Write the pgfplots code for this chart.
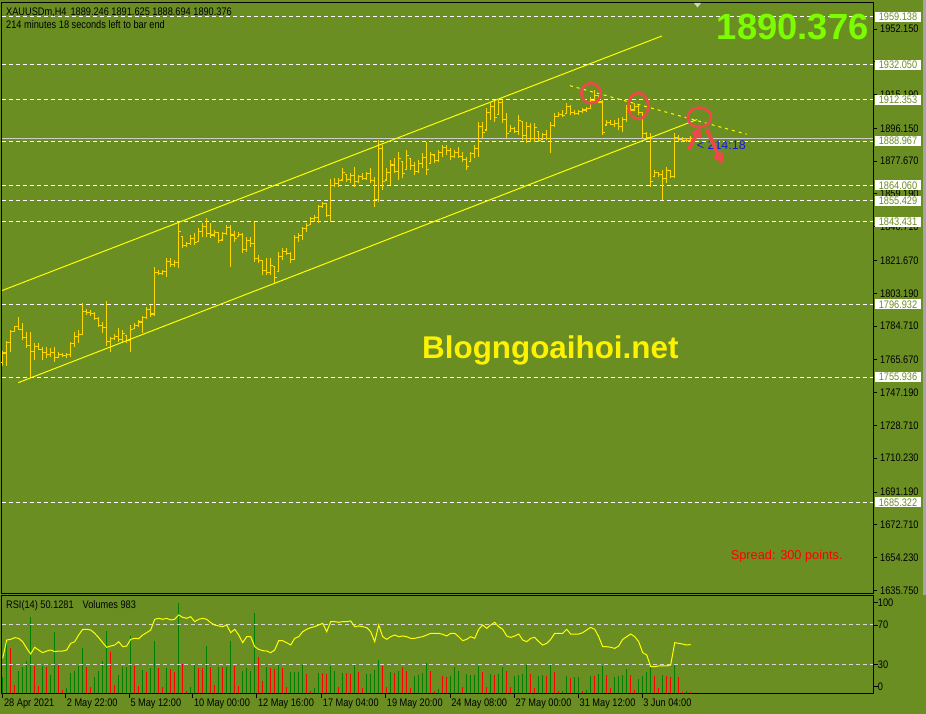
\documentclass[border=0pt]{standalone}
\usepackage{pgfplots}
\pgfplotsset{compat=1.18}
\usepackage{pgfplotstable}
\usepackage{fontspec}
\usetikzlibrary{arrows.meta}
\setmainfont{Liberation Sans}
\newfontfamily\mtfont[FakeStretch=0.84]{Liberation Sans}
\newcommand\mts{\mtfont\fontsize{11}{13}\selectfont}
\definecolor{bg}{RGB}{107,142,35}
\definecolor{bargold}{RGB}{255,215,0}
\definecolor{chan}{RGB}{255,255,0}
\definecolor{volgreen}{RGB}{0,128,0}
\definecolor{volred}{RGB}{255,0,0}
\definecolor{bignum}{RGB}{124,252,0}
\definecolor{circ}{RGB}{238,72,72}
\definecolor{timerblue}{RGB}{20,20,235}
\definecolor{bidgray}{RGB}{205,205,205}
\definecolor{lvl}{RGB}{215,215,215}
\definecolor{edgegray}{RGB}{165,165,165}
\pgfdeclareplotmark{openmk}{\pgfpathmoveto{\pgfqpoint{-1.9bp}{0bp}}\pgfpathlineto{\pgfqpoint{0bp}{0bp}}\pgfusepathqstroke}
\pgfdeclareplotmark{closemk}{\pgfpathmoveto{\pgfqpoint{0bp}{0bp}}\pgfpathlineto{\pgfqpoint{1.9bp}{0bp}}\pgfusepathqstroke}

\pgfplotstableread{
i O H L C
0 1764.0 1770.6 1762.4 1769.5
1 1769.5 1776.3 1762.4 1775.5
2 1775.5 1782.5 1770.2 1781.5
3 1781.5 1784.7 1781.5 1784.5
4 1784.5 1790.0 1782.5 1783.0
5 1783.0 1786.3 1776.8 1778.0
6 1778.0 1781.5 1772.2 1773.5
7 1773.5 1781.5 1755.2 1770.3
8 1770.3 1775.0 1765.6 1773.1
9 1773.1 1775.0 1771.2 1771.5
10 1771.5 1773.1 1765.6 1769.8
11 1769.8 1773.1 1766.5 1768.5
12 1768.5 1772.2 1767.4 1770.0
13 1770.0 1773.1 1764.6 1767.0
14 1767.0 1770.3 1766.5 1768.5
15 1768.5 1769.7 1767.4 1768.0
16 1768.0 1769.3 1766.5 1768.5
17 1768.5 1775.9 1767.4 1775.0
18 1775.0 1781.5 1773.1 1779.0
19 1779.0 1782.5 1775.0 1780.0
20 1780.0 1797.5 1779.7 1793.0
21 1793.0 1794.2 1790.9 1792.5
22 1792.5 1793.8 1790.4 1792.0
23 1792.0 1792.8 1788.1 1789.0
24 1789.0 1790.0 1784.0 1785.0
25 1785.0 1787.1 1780.6 1784.0
26 1784.0 1799.0 1773.5 1776.0
27 1776.0 1778.7 1770.3 1777.5
28 1777.5 1780.2 1776.8 1779.0
29 1779.0 1783.4 1775.9 1777.0
30 1777.0 1782.5 1775.0 1780.5
31 1779.5 1779.7 1775.0 1776.5
32 1776.5 1785.3 1770.3 1783.0
33 1783.4 1786.3 1783.4 1785.0
34 1785.0 1788.1 1784.3 1787.0
35 1787.0 1790.4 1781.0 1789.5
36 1789.5 1795.6 1788.5 1794.0
37 1794.0 1796.6 1790.0 1791.5
38 1791.5 1817.8 1790.4 1815.0
39 1815.0 1816.3 1813.5 1814.5
40 1814.5 1816.3 1813.5 1815.5
41 1815.5 1822.9 1812.5 1821.0
42 1821.0 1822.9 1818.2 1819.5
43 1819.5 1821.9 1818.2 1820.5
44 1820.5 1843.5 1817.3 1838.0
45 1835.1 1835.1 1828.5 1830.0
46 1830.0 1832.3 1829.4 1831.0
47 1831.0 1836.0 1830.4 1834.0
48 1834.0 1837.0 1830.4 1832.0
49 1832.3 1839.8 1832.3 1838.0
50 1838.0 1843.0 1835.1 1841.0
51 1841.0 1845.4 1835.1 1837.0
52 1837.0 1842.6 1834.2 1836.0
53 1836.0 1838.9 1835.1 1837.5
54 1837.5 1837.9 1831.4 1833.0
55 1833.2 1837.9 1833.2 1837.0
56 1837.0 1841.7 1836.0 1840.0
57 1840.0 1841.7 1817.8 1836.0
58 1836.0 1838.4 1832.3 1834.0
59 1835.1 1837.9 1835.1 1836.5
60 1836.5 1837.0 1825.7 1828.0
61 1828.0 1835.1 1826.6 1833.0
62 1833.0 1835.1 1829.4 1831.0
63 1831.0 1843.2 1821.0 1823.0
64 1823.0 1824.8 1820.1 1821.5
65 1821.5 1821.9 1813.5 1816.0
66 1816.0 1822.9 1813.5 1815.0
67 1815.0 1822.9 1813.5 1819.0
68 1818.2 1818.2 1808.8 1812.0
69 1815.3 1826.6 1815.3 1824.0
70 1824.0 1828.5 1821.9 1826.5
71 1826.5 1828.5 1824.8 1825.5
72 1825.5 1826.6 1820.1 1822.0
73 1822.0 1836.0 1821.9 1834.5
74 1834.5 1837.0 1832.3 1835.5
75 1835.5 1840.7 1833.2 1839.5
76 1839.5 1842.6 1837.9 1841.5
77 1841.7 1846.3 1841.7 1845.5
78 1845.5 1847.3 1843.5 1846.0
79 1846.0 1852.9 1843.0 1852.0
80 1852.0 1854.8 1851.1 1854.0
81 1853.9 1853.9 1846.3 1847.0
82 1847.0 1867.4 1843.4 1864.0
83 1864.0 1868.0 1863.3 1865.0
84 1865.0 1868.0 1863.3 1866.5
85 1867.0 1873.6 1867.0 1871.0
86 1869.9 1869.9 1866.1 1867.5
87 1867.5 1870.8 1865.2 1869.5
88 1869.5 1874.5 1862.9 1866.0
89 1866.0 1869.9 1865.2 1869.0
90 1869.0 1870.8 1867.0 1868.0
91 1868.0 1871.7 1867.0 1870.5
92 1870.5 1873.6 1865.2 1866.5
93 1866.5 1868.9 1852.0 1856.0
94 1856.0 1889.6 1854.8 1885.0
95 1885.0 1886.8 1861.4 1866.0
96 1867.0 1873.6 1867.0 1871.5
97 1871.5 1878.3 1864.2 1875.5
98 1875.5 1879.3 1870.8 1872.0
99 1872.0 1883.0 1867.0 1879.0
100 1877.4 1877.4 1868.0 1870.5
101 1872.7 1883.9 1872.7 1881.0
102 1879.3 1879.3 1872.7 1875.0
103 1875.0 1877.4 1869.9 1872.0
104 1872.0 1878.3 1870.8 1876.5
105 1876.5 1882.1 1873.6 1879.5
106 1879.5 1888.6 1869.9 1873.0
107 1876.5 1883.0 1876.5 1881.5
108 1881.1 1881.1 1876.5 1878.0
109 1878.0 1883.9 1877.4 1882.5
110 1882.5 1886.8 1880.2 1885.5
111 1885.5 1886.8 1881.1 1883.5
112 1883.5 1884.9 1878.3 1880.5
113 1880.5 1883.9 1879.3 1882.5
114 1882.5 1885.8 1879.3 1880.5
115 1880.5 1883.0 1877.4 1878.5
116 1878.5 1880.2 1872.7 1874.5
117 1877.4 1883.0 1877.4 1882.0
118 1882.0 1886.8 1879.3 1885.0
119 1885.0 1899.9 1880.2 1897.0
120 1897.0 1899.9 1890.5 1894.0
121 1895.2 1907.5 1895.2 1905.0
122 1905.0 1910.3 1900.9 1908.5
123 1908.5 1911.7 1899.9 1902.0
124 1903.7 1912.1 1903.7 1910.5
125 1910.5 1912.1 1899.0 1901.0
126 1901.0 1904.6 1890.5 1893.0
127 1894.3 1898.0 1894.3 1896.0
128 1896.0 1897.1 1893.4 1894.5
129 1894.5 1903.7 1892.4 1900.5
130 1899.9 1899.9 1889.6 1892.0
131 1892.0 1899.9 1887.7 1897.0
132 1897.0 1899.0 1888.6 1890.5
133 1890.5 1899.0 1888.6 1896.5
134 1894.3 1894.3 1888.6 1889.5
135 1889.6 1893.4 1889.6 1892.5
136 1892.5 1895.2 1889.6 1890.5
137 1890.5 1899.9 1882.1 1897.5
138 1897.5 1904.6 1897.1 1903.0
139 1903.0 1905.5 1902.7 1904.0
140 1904.0 1906.5 1902.7 1903.5
141 1904.6 1910.3 1904.6 1908.5
142 1908.5 1909.3 1903.7 1905.0
143 1905.0 1906.5 1903.7 1904.5
144 1904.5 1906.5 1903.7 1905.5
145 1905.5 1907.5 1904.6 1906.5
146 1906.5 1908.3 1905.5 1907.5
147 1907.5 1914.0 1907.5 1912.0
148 1912.0 1917.8 1911.2 1914.5
149 1914.5 1914.9 1910.3 1911.0
150 1911.0 1912.1 1892.4 1894.0
151 1898.0 1900.9 1898.0 1899.5
152 1899.5 1900.9 1898.0 1898.5
153 1898.5 1900.9 1897.1 1899.0
154 1899.0 1901.8 1895.2 1897.0
155 1897.0 1902.7 1894.3 1901.0
156 1901.0 1909.3 1899.9 1907.5
157 1907.5 1909.3 1904.6 1906.5
158 1906.5 1910.3 1906.5 1908.5
159 1908.5 1909.3 1903.7 1905.0
160 1905.0 1905.5 1890.5 1893.0
161 1893.0 1894.3 1889.6 1891.0
162 1891.0 1893.4 1863.3 1866.0
163 1868.9 1872.7 1868.9 1871.0
164 1871.0 1871.7 1868.9 1870.0
165 1870.0 1872.7 1855.8 1868.0
166 1868.0 1874.5 1865.2 1872.5
167 1872.5 1872.7 1868.0 1869.0
168 1869.0 1893.4 1868.0 1891.0
169 1891.0 1892.4 1888.6 1890.0
170 1890.0 1891.4 1888.6 1889.5
171 1889.5 1890.5 1888.6 1889.2
172 1889.246 1891.625 1888.694 1890.376
}\ohlc

\begin{document}
\begin{tikzpicture}
\path[use as bounding box] (0,0) rectangle (926bp,714bp);
\fill[bg] (0,0) rectangle (926bp,714bp);
\fill[edgegray] (923bp,119bp) rectangle (925.5bp,714bp);

% ---------------- main price panel ----------------
\begin{axis}[
  at={(1.7bp,120.7bp)}, anchor=south west, scale only axis,
  width=871.6bp, height=590.6bp,
  xmin=-0.25, xmax=217.65, ymin=1634.05, ymax=1966.97,
  axis line style={black, line width=1bp},
  xtick=\empty,
  ytick={1635.75,1654.23,1672.71,1691.19,1710.23,1728.71,1747.19,1765.67,1784.71,1803.19,1821.67,1840.71,1859.19,1877.67,1896.15,1915.19,1933.67,1952.15},
  yticklabels={}, ytick pos=right,
  tick align=outside, major tick length=4bp,
  tick style={black, line width=0.8bp},
  clip mode=individual,
]
\pgfplotsinvokeforeach{1959.138,1932.050,1912.353,1888.967,1864.060,1855.429,1843.431,1796.932,1755.936,1685.322}{
  \addplot[white, line width=1bp, dash pattern=on 4.5bp off 2.5bp, forget plot] coordinates {(-0.25,#1) (217.65,#1)};
}
\addplot[bidgray, line width=1bp, forget plot] coordinates {(-0.25,1890.376) (217.65,1890.376)};

% OHLC bars
\addplot[draw=none, mark=none, forget plot,
  error bars/.cd, y dir=plus, y explicit, error mark=none,
  error bar style={draw=bargold, solid, line width=1.3bp}]
  table[x=i, y=L, y error expr=\thisrow{H}-\thisrow{L}] {\ohlc};
\addplot[only marks, mark=openmk, mark options={draw=bargold, solid, line width=1.1bp}, forget plot] table[x=i, y=O] {\ohlc};
\addplot[only marks, mark=closemk, mark options={draw=bargold, solid, line width=1.1bp}, forget plot] table[x=i, y=C] {\ohlc};

% channel and trend lines
\addplot[chan, line width=1bp, forget plot] coordinates {(-0.175,1804.7) (164.8,1948.2)};
\addplot[chan, line width=1bp, forget plot] coordinates {(3.9,1752.8) (173.6,1901.1)};
\addplot[chan, line width=1bp, dash pattern=on 3bp off 4bp, forget plot] coordinates {(141.8,1920.2) (186.0,1892.8)};

% price scale labels
\pgfplotsinvokeforeach{1635.750,1654.230,1672.710,1691.190,1710.230,1728.710,1747.190,1765.670,1784.710,1803.190,1821.670,1840.710,1859.190,1877.670,1896.150,1915.190,1952.150}{
  \node[anchor=west, inner sep=0pt, font=\mts, text=black, xshift=6.7bp] at (axis cs:217.65,#1) {#1};
}
\pgfplotsinvokeforeach{1959.138,1932.050,1912.353,1888.967,1864.060,1855.429,1843.431,1796.932,1755.936,1685.322}{
  \node[anchor=west, fill=white, text=bg, inner xsep=3.9bp, inner ysep=1bp, minimum height=10bp, font=\mts, xshift=1.4bp] at (axis cs:217.65,#1) {#1};
}
\end{axis}

% ---------------- volumes ----------------
\begin{axis}[
  at={(1.7bp,20.7bp)}, anchor=south west, scale only axis,
  width=871.6bp, height=97.6bp,
  xmin=-0.25, xmax=217.65, ymin=0, ymax=97600,
  axis line style={black, line width=1bp},
  xtick=\empty, ytick=\empty,
]
\addplot[ycomb, volgreen, line width=1.2bp] coordinates {
(0,16000) (1,52700) (4,22700) (5,26000) (6,32000) (7,76000) (10,27700) (12,18700) (13,61000)
(16,5000) (17,20000) (18,22700) (19,27700) (20,45000) (23,16700) (24,22000) (25,32700) (26,62000)
(29,18700) (30,26000) (31,26000) (32,57700) (35,23700) (37,25000) (38,52700) (41,25300) (44,90300)
(47,6700) (48,28700) (51,47700) (54,26700) (56,26700) (57,52700) (60,22700) (61,25000) (62,22700)
(63,80000) (66,26700) (69,29300) (72,21000) (73,21000) (74,21000) (75,28700) (78,5000) (79,20000)
(82,27700) (83,22700) (85,20000) (88,28700) (91,19300) (92,19300) (93,23700) (94,33700) (97,21000)
(99,22700) (103,17700) (104,18700) (105,20000) (106,30000) (109,4000) (112,17700) (113,26000) (114,22700)
(116,19300) (117,18700) (118,18700) (119,27700) (122,19300) (124,19300) (125,26700) (128,17700)
(129,18700) (130,19300) (131,28700) (134,17700) (135,18700) (137,28700) (140,2700) (141,17700)
(143,16000) (144,16000) (146,3300) (147,17700) (149,19300) (150,27700) (153,16700) (154,17700)
(155,18700) (156,24300) (159,14300) (160,17700) (161,21000) (162,27700) (165,18700) (168,28700) (171,2700)
};
\addplot[ycomb, volred, line width=1.2bp] coordinates {
(2,45000) (3,8700) (8,27000) (9,7700) (11,26500) (14,29300) (15,3300) (21,26000) (22,6700)
(27,41700) (28,8700) (33,27700) (34,7700) (36,21000) (39,25300) (40,6700) (42,24300) (43,21000)
(45,29300) (46,2000) (49,25300) (50,25000) (52,26700) (53,8700) (55,26000) (58,27700) (59,7700)
(64,36700) (65,12000) (67,25300) (68,24300) (70,25300) (71,6700) (76,19300) (77,2000) (80,20000)
(81,19300) (84,6000) (86,20000) (87,19300) (89,21000) (90,5000) (95,27700) (96,6700) (98,20000)
(100,26000) (101,22700) (102,5300) (107,22000) (108,2000) (110,17700) (111,16000)
(115,6000) (120,21000) (121,6700) (123,18700) (126,22700) (127,6000) (132,19300) (133,5300)
(136,17700) (138,21000) (139,2700) (142,15300) (145,2700) (148,17700) (151,18700) (152,5000)
(157,18700) (158,3700) (163,17700) (164,5000) (166,17700) (167,16000) (169,16700) (170,1000) (172,983)
};
\end{axis}

% ---------------- RSI ----------------
\begin{axis}[
  at={(1.7bp,20.7bp)}, anchor=south west, scale only axis,
  width=871.6bp, height=97.6bp,
  xmin=-0.25, xmax=217.65, ymin=0.48, ymax=99.8,
  axis line style={black, line width=1bp},
  xtick={0,15.7,31.6,47.5,63.5,79.7,95.7,111.8,127.9,143.9,159.8}, xticklabels={}, xtick pos=left,
  ytick={7.2,30,70,92.7}, yticklabels={}, ytick pos=right,
  tick align=outside, major tick length=4.6bp,
  tick style={black, line width=0.8bp},
  clip mode=individual,
]
\addplot[lvl, line width=1bp, dash pattern=on 4bp off 3bp, forget plot] coordinates {(-0.25,70) (217.65,70)};
\addplot[lvl, line width=1bp, dash pattern=on 4bp off 3bp, forget plot] coordinates {(-0.25,30) (217.65,30)};
\addplot[chan, line width=1bp] coordinates {
(0,36.0) (1,54.7) (2,55.4) (3,57.1) (4,56.4) (5,53.0) (6,46.2) (7,40.5) (8,47.3) (9,44.5)
(10,41.8) (11,43.5) (12,44.5) (13,42.9) (14,43.5) (15,43.5) (16,44.5) (17,51.3) (18,53.0) (19,59.8)
(20,65.6) (21,65.6) (22,64.9) (23,61.5) (24,57.1) (25,52.0) (26,47.3) (27,48.6) (28,49.6) (29,53.0)
(30,47.9) (31,48.6) (32,55.4) (33,56.4) (34,56.1) (35,59.8) (36,62.2) (37,64.9) (38,75.8) (39,76.8)
(40,75.8) (41,76.8) (42,75.1) (43,75.8) (44,80.2) (45,77.8) (46,76.8) (47,78.5) (48,73.4) (49,75.8)
(50,76.8) (51,75.8) (52,72.4) (53,70.0) (54,69.0) (55,68.3) (56,70.0) (57,62.2) (58,65.6) (59,59.8)
(60,52.0) (61,58.1) (62,58.1) (63,47.9) (64,45.2) (65,43.9) (66,43.5) (67,41.8) (68,44.5) (69,54.0)
(70,54.0) (71,52.0) (72,49.6) (73,56.4) (74,58.1) (75,63.2) (76,65.6) (77,67.3) (78,68.3) (79,70.0)
(80,71.7) (81,63.2) (82,73.4) (83,73.4) (84,72.7) (85,73.4) (86,73.4) (87,74.1) (88,68.3) (89,69.0)
(90,68.3) (91,67.3) (92,63.2) (93,53.0) (94,70.0) (95,58.1) (96,55.4) (97,58.1) (98,59.8) (99,58.1)
(100,58.8) (101,58.1) (102,56.4) (103,56.4) (104,57.4) (105,58.1) (106,59.8) (107,61.5) (108,61.5) (109,61.5)
(110,60.5) (111,58.8) (112,61.5) (113,61.5) (114,58.1) (115,54.0) (116,55.4) (117,58.1) (118,56.4) (119,65.6)
(120,70.0) (121,66.6) (122,70.0) (123,72.7) (124,68.3) (125,65.6) (126,58.8) (127,57.4) (128,58.8) (129,60.8)
(130,54.7) (131,53.0) (132,56.4) (133,57.4) (134,53.0) (135,49.6) (136,51.3) (137,55.4) (138,61.5) (139,61.5)
(140,61.5) (141,65.6) (142,60.8) (143,60.8) (144,60.8) (145,62.2) (146,64.9) (147,67.6) (148,65.6) (149,58.1)
(150,47.9) (151,47.9) (152,47.3) (153,46.2) (154,48.6) (155,55.4) (156,58.1) (157,60.8) (158,58.1) (159,53.0)
(160,41.8) (161,39.5) (162,27.6) (163,27.6) (164,28.3) (165,28.3) (166,28.3) (167,29.3) (168,52.0) (169,51.3)
(170,50.6) (171,49.6) (172,50.1281)
};
\node[anchor=west, inner sep=0pt, font=\mts, xshift=4.4bp] at (axis cs:217.65,92.7) {100};
\node[anchor=west, inner sep=0pt, font=\mts, xshift=4.4bp] at (axis cs:217.65,70) {70};
\node[anchor=west, inner sep=0pt, font=\mts, xshift=4.4bp] at (axis cs:217.65,30) {30};
\node[anchor=west, inner sep=0pt, font=\mts, xshift=4.4bp] at (axis cs:217.65,7.2) {0};
\node[anchor=base west, inner sep=0pt, font=\mts, xshift=1.2bp, yshift=-12.7bp] at (axis cs:0,0.48) {28 Apr 2021};
\node[anchor=base west, inner sep=0pt, font=\mts, xshift=1.2bp, yshift=-12.7bp] at (axis cs:15.7,0.48) {2 May 22:00};
\node[anchor=base west, inner sep=0pt, font=\mts, xshift=1.2bp, yshift=-12.7bp] at (axis cs:31.6,0.48) {5 May 12:00};
\node[anchor=base west, inner sep=0pt, font=\mts, xshift=1.2bp, yshift=-12.7bp] at (axis cs:47.5,0.48) {10 May 00:00};
\node[anchor=base west, inner sep=0pt, font=\mts, xshift=1.2bp, yshift=-12.7bp] at (axis cs:63.5,0.48) {12 May 16:00};
\node[anchor=base west, inner sep=0pt, font=\mts, xshift=1.2bp, yshift=-12.7bp] at (axis cs:79.7,0.48) {17 May 04:00};
\node[anchor=base west, inner sep=0pt, font=\mts, xshift=1.2bp, yshift=-12.7bp] at (axis cs:95.7,0.48) {19 May 20:00};
\node[anchor=base west, inner sep=0pt, font=\mts, xshift=1.2bp, yshift=-12.7bp] at (axis cs:111.8,0.48) {24 May 08:00};
\node[anchor=base west, inner sep=0pt, font=\mts, xshift=1.2bp, yshift=-12.7bp] at (axis cs:127.9,0.48) {27 May 00:00};
\node[anchor=base west, inner sep=0pt, font=\mts, xshift=1.2bp, yshift=-12.7bp] at (axis cs:143.9,0.48) {31 May 12:00};
\node[anchor=base west, inner sep=0pt, font=\mts, xshift=1.2bp, yshift=-12.7bp] at (axis cs:159.8,0.48) {3 Jun 04:00};
\end{axis}

% ---------------- annotations ----------------
\begin{scope}[x=1bp, y=1bp]
\fill[gray!35] (694,711) -- (701,711) -- (697.5,706.5) -- cycle;
\node[anchor=base west, inner sep=0pt, font=\mts, text=black] at (6,698.5) {XAUUSDm,H4\hspace{4bp}1889.246 1891.625 1888.694 1890.376};
\node[anchor=base west, inner sep=0pt, font=\mts, text=black] at (6,685.7) {214 minutes 18 seconds left to bar end};
\node[anchor=base west, inner sep=0pt, font=\mts, text=black] at (6,105.7) {RSI(14) 50.1281\hspace{9bp}Volumes 983};
\node[anchor=base west, inner sep=0pt, text=bignum, font=\fontsize{36.5}{40}\selectfont\bfseries] at (716.7,674.7) {1890.376};
\node[anchor=base west, inner sep=0pt, text=yellow, font=\fontsize{31.5}{36}\selectfont\bfseries] at (422,355.4) {Blogngoaihoi.net};
\node[anchor=base west, inner sep=0pt, text=red, font=\fontsize{12.8}{15}\selectfont] at (730.7,154.7) {Spread: 300 points.};
\node[anchor=base west, inner sep=0pt, text=timerblue, font=\fontsize{12.5}{15}\selectfont] at (696.7,564) {<\ 214:18};
\draw[circ, line width=2.6bp] (591,620.7) ellipse [x radius=9.7, y radius=10];
\draw[circ, line width=2.6bp] (638.3,608) ellipse [x radius=10, y radius=13];
\draw[circ, line width=2.6bp] (699.3,596.7) ellipse [x radius=11.7, y radius=9.7];
\draw[circ, line width=3.6bp, -{Triangle[length=10bp, width=11bp]}] (688.5,564.5) -- (700.5,587);
\draw[circ, line width=3.6bp, -{Triangle[length=11bp, width=11bp]}] (706.7,585) -- (722.5,549.5);
\end{scope}
\end{tikzpicture}
\end{document}
